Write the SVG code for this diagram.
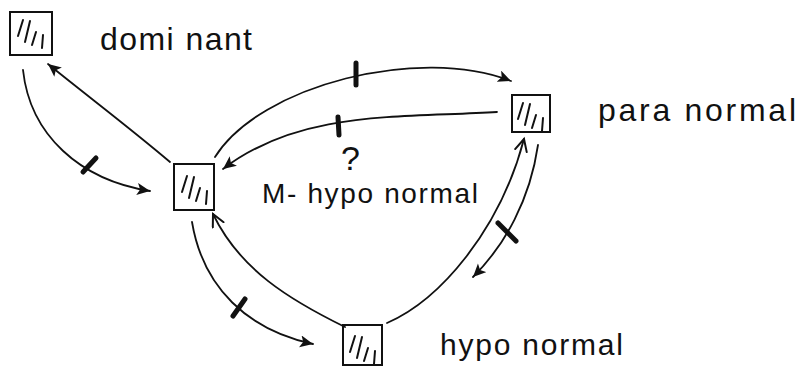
<svg xmlns="http://www.w3.org/2000/svg" width="801" height="370" viewBox="0 0 801 370">
<defs>
<style>
.box{fill:none;stroke:#111;stroke-width:2}
.hatch{fill:none;stroke:#111;stroke-width:2;stroke-linecap:round}
.lbl{font-family:"Liberation Sans","DejaVu Sans",sans-serif;fill:#111}
.edge{fill:none;stroke:#111;stroke-width:1.8;stroke-linecap:round}
.tick{stroke:#111;stroke-width:5;stroke-linecap:round}
</style>
<marker id="fa" markerUnits="userSpaceOnUse" markerWidth="16" markerHeight="14" refX="13" refY="6" orient="auto">
<path d="M0,0 L13,6 L0,12 L3,6 z" fill="#111"/>
</marker>
<marker id="oa" markerUnits="userSpaceOnUse" markerWidth="16" markerHeight="16" refX="13" refY="7" orient="auto">
<path d="M1,1 L13,7 L1,13" fill="none" stroke="#111" stroke-width="2" stroke-linecap="round"/>
</marker>
<g id="hatchpat">
<path class="hatch" d="M13,8 L8,24 M20,9 L15,30 M26,20 L22,33 M33,23 L32,36"/>
</g>
</defs>
<rect width="801" height="370" fill="#fff"/>

<g id="dominant">
<rect class="box" x="10" y="12" width="42" height="43"/>
<use href="#hatchpat" x="10" y="12"/>
<text class="lbl" x="100" y="50" font-size="32" textLength="152" lengthAdjust="spacing">domi nant</text>
</g>

<g id="m-hypo-normal">
<rect class="box" x="174" y="164" width="40" height="46"/>
<use href="#hatchpat" x="174" y="168"/>
<text class="lbl" x="262" y="203" font-size="28" textLength="216" lengthAdjust="spacing">M- hypo normal</text>
</g>

<g id="para-normal">
<rect class="box" x="512" y="95" width="38" height="37"/>
<use href="#hatchpat" x="510" y="95"/>
<text class="lbl" x="598" y="121" font-size="32" textLength="198" lengthAdjust="spacing">para normal</text>
</g>

<g id="hypo-normal">
<rect class="box" x="343" y="325" width="39" height="40"/>
<use href="#hatchpat" x="342" y="328"/>
<text class="lbl" x="440" y="355" font-size="30" textLength="183" lengthAdjust="spacing">hypo normal</text>
</g>

<g id="connectors">
<path class="edge" d="M23,70 C30,135 80,180 150,191" marker-end="url(#fa)"/>
<line class="tick" x1="83" y1="172" x2="96" y2="158"/>

<path class="edge" d="M170,162 C130,128 90,98 48,64" marker-end="url(#fa)"/>

<path class="edge" d="M215,157 C260,85 420,45 511,81" marker-end="url(#fa)"/>
<line class="tick" x1="356" y1="63" x2="356" y2="85"/>

<path class="edge" d="M497,112 C400,118 300,110 223,169" marker-end="url(#fa)"/>
<line class="tick" x1="338" y1="117" x2="339" y2="135"/>
<text class="lbl" x="341" y="170" font-size="34">?</text>

<path class="edge" d="M387,323 C440,300 500,230 524,139" marker-end="url(#oa)"/>

<path class="edge" d="M538,145 C530,200 505,245 473,277" marker-end="url(#fa)"/>
<line class="tick" x1="498" y1="223" x2="516" y2="241"/>

<path class="edge" d="M192,222 C203,288 248,330 313,344" marker-end="url(#fa)"/>
<line class="tick" x1="233" y1="316" x2="245" y2="299"/>

<path class="edge" d="M345,327 C290,300 240,270 213,214" marker-end="url(#oa)"/>
</g>
</svg>
